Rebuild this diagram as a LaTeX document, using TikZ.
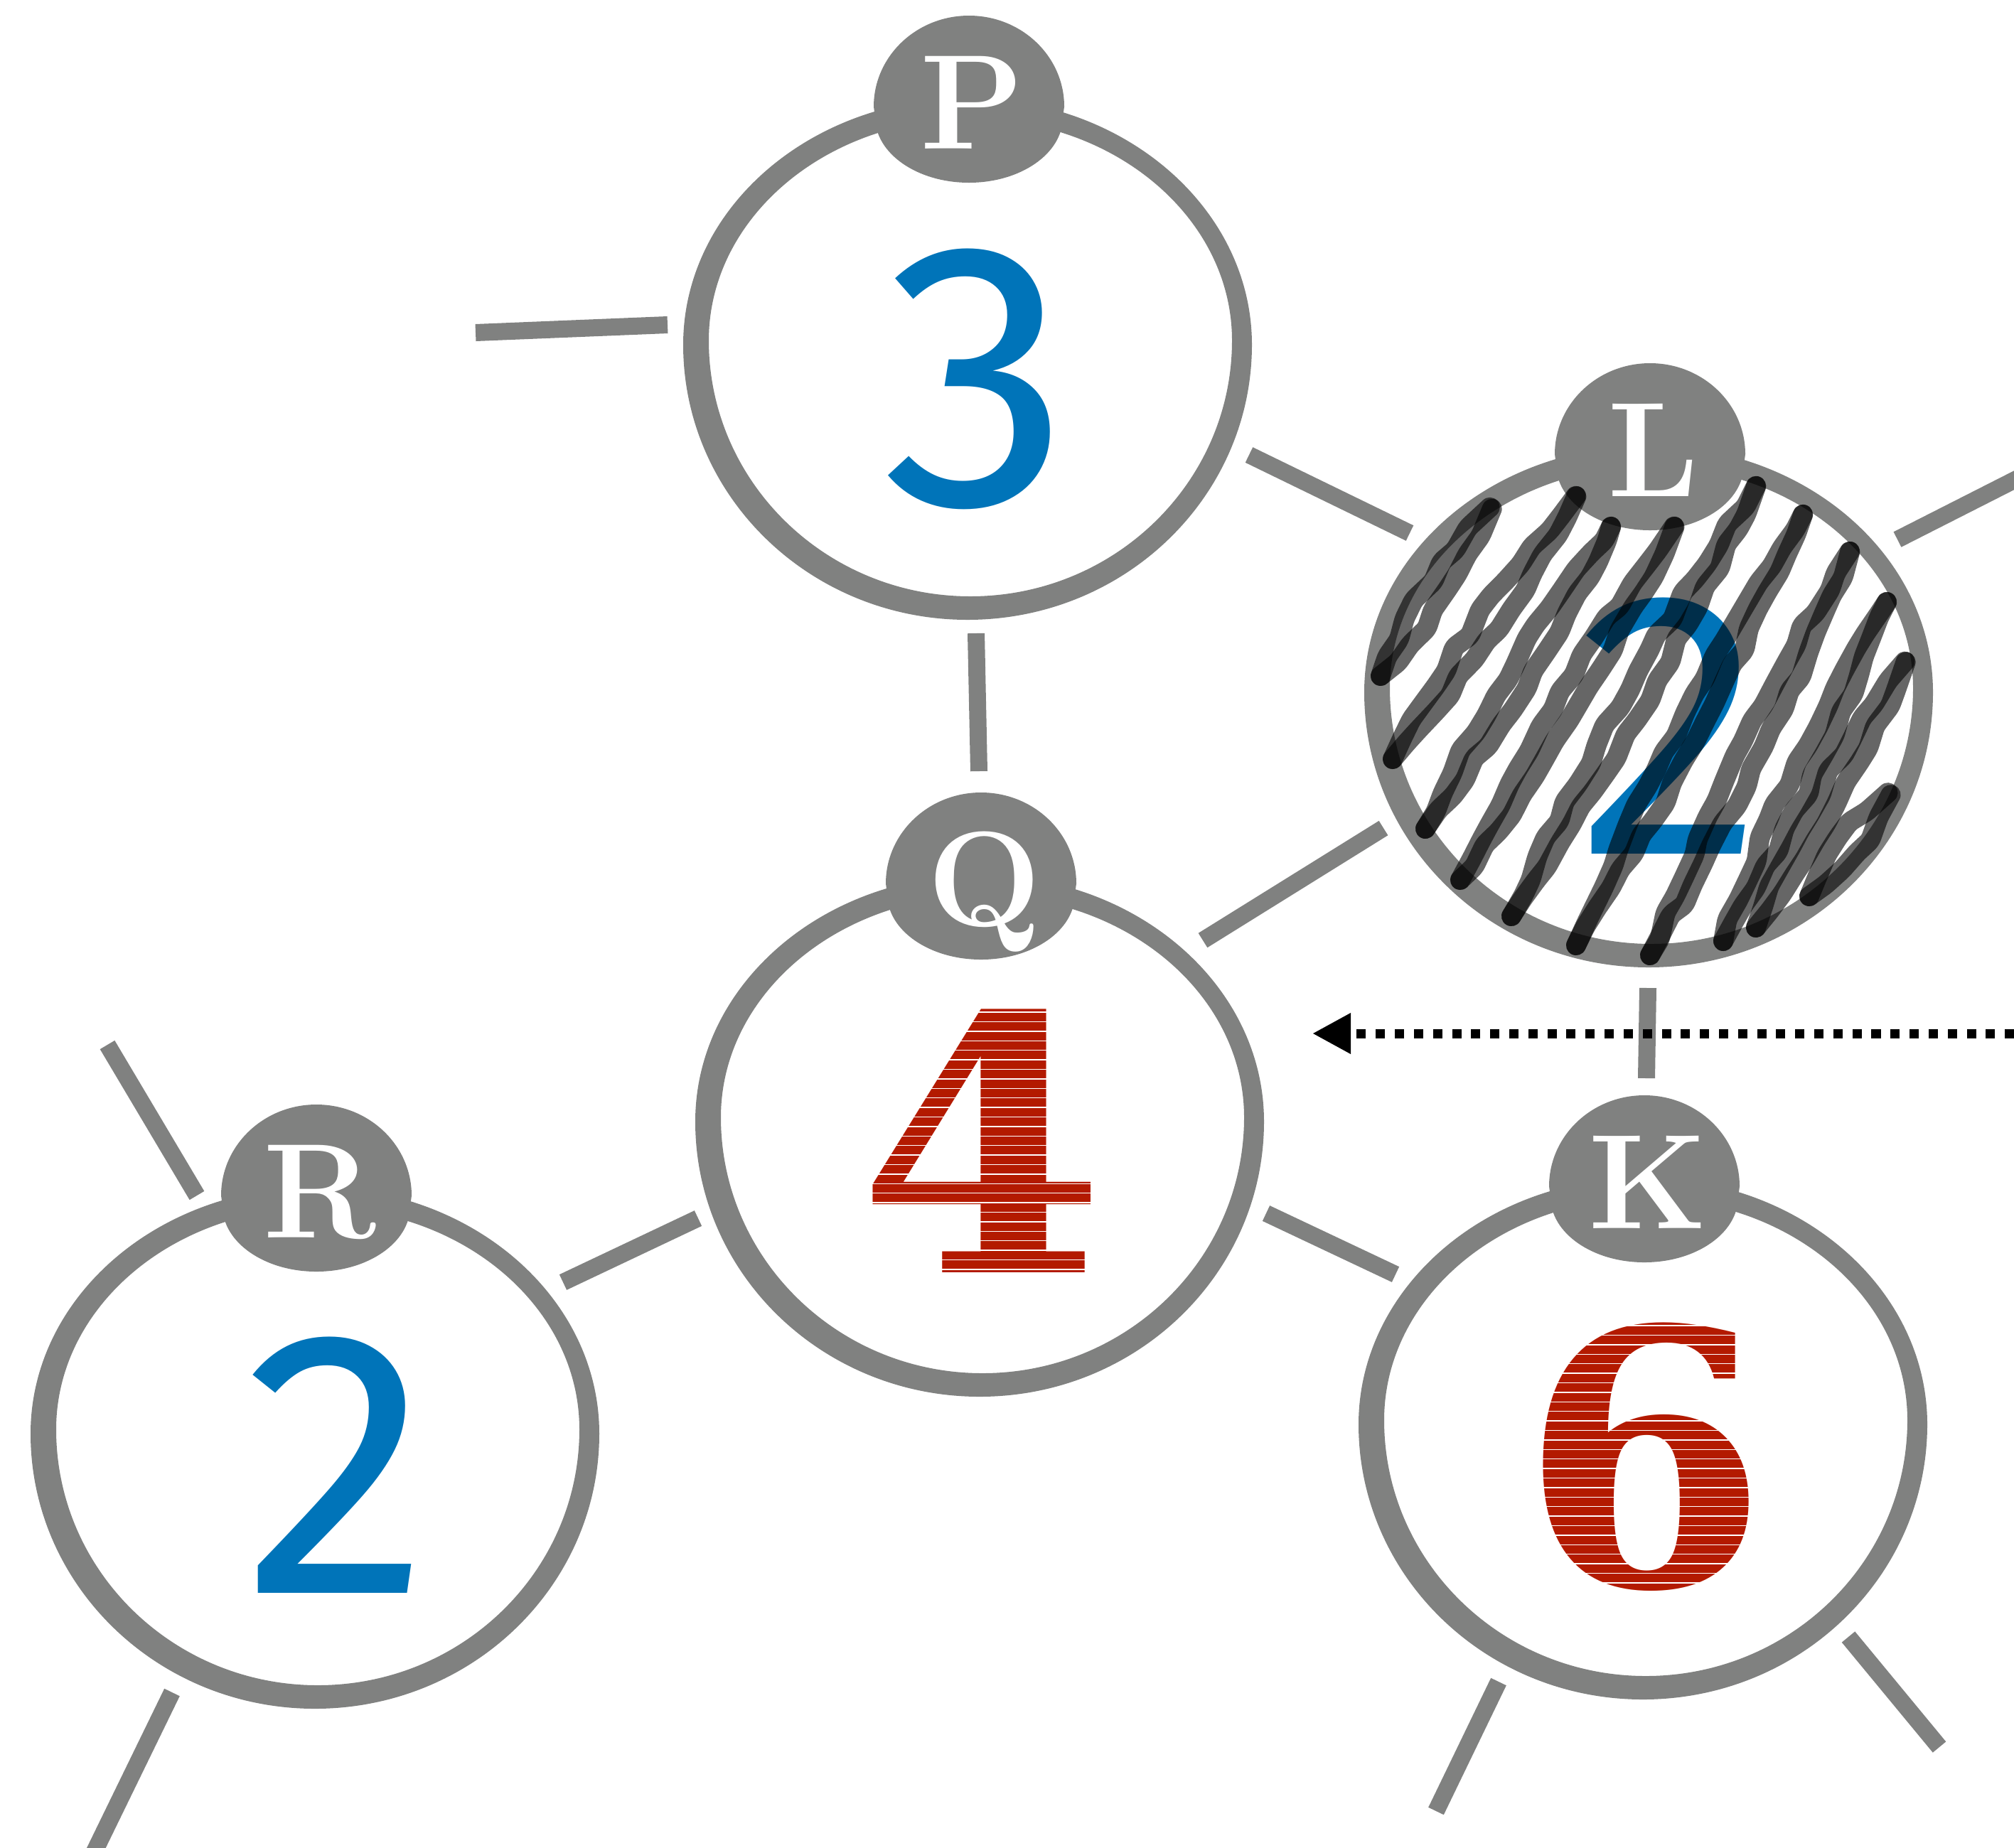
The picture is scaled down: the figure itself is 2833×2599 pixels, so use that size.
\documentclass[tikz,border=0pt]{standalone}
\usepackage{fontspec}
\usetikzlibrary{calc,arrows.meta,decorations.pathmorphing}
\newfontfamily\digitfont{Fira Sans}
\newfontfamily\slabfont{DejaVu Serif}
\definecolor{nodegray}{RGB}{128,129,128}
\definecolor{numblue}{RGB}{0,116,185}
\definecolor{numred}{RGB}{179,26,0}

\tikzset{
  edge/.style={draw=nodegray, line width=0.24cm},
  ring/.style={fill=nodegray, even odd rule},
  tag/.style={fill=nodegray},
  taglabel/.style={text=white, inner sep=0pt, anchor=base, font=\fontsize{54}{54}\selectfont\bfseries},
  bluenum/.style={text=numblue, inner sep=0pt, font=\digitfont\fontsize{151}{151}\selectfont},
  rednum/.style={text=numred, inner sep=0pt, font=\slabfont\fontsize{142}{142}\selectfont\bfseries},
  stripe/.style={draw=white, line width=0.4pt},
  hatchpass/.style={draw=black, draw opacity=0.6, line width=0.28cm, line cap=round,
    line join=round, rounded corners=0.05cm, decorate,
    decoration={random steps, segment length=0.3cm, amplitude=0.05cm}},
  flow/.style={draw=black, line width=0.13cm, dash pattern=on 0.13cm off 0.138cm,
    -{Triangle[length=0.54cm,width=0.54cm]}},
}

% ring, name tag and letter of one vertex: #1 = coordinate name, #2 = letter
\newcommand\vertexbody[2]{%
  \fill[ring]
    ($(#1)+(-402,4)$) arc[start angle=180,end angle=360,x radius=400,y radius=347]
                      arc[start angle=0,end angle=180,x radius=400,y radius=387] -- cycle
    ($(#1)+(-366,-2)$) arc[start angle=180,end angle=360,x radius=368,y radius=312]
                      arc[start angle=0,end angle=180,x radius=368,y radius=360] -- cycle;
  \fill[tag]
    ($(#1)+(-134,-331)$) arc[start angle=180,end angle=360,x radius=134,y radius=128]
    -- ($(#1)+(132,-316)$) arc[start angle=0,end angle=180,x radius=132,y radius=92] -- cycle;
  \node[taglabel] (#1-tag) at ($(#1)+(5,-272)$) {#2};
}

\begin{document}
\begin{tikzpicture}[x=0.01cm,y=-0.01cm]
\pgfmathsetseed{42}
\useasboundingbox (0,0) rectangle (2833,2599);
\begin{scope}
\clip (0,0) rectangle (2833,2599);

% vertex centres
\coordinate (P) at (1363,481);
\coordinate (Q) at (1380,1574);
\coordinate (L) at (2321,970);
\coordinate (R) at (445,2013);
\coordinate (K) at (2313,2000);

% edges between vertices
\draw[edge] ($(P)+(10,410)$)   -- ($(Q)+(-3,-489)$);
\draw[edge] ($(P)+(394,159)$)  -- ($(L)+(-338,-220)$);
\draw[edge] ($(L)+(-375,195)$) -- ($(Q)+(312,-251)$);
\draw[edge] ($(L)+(-3,420)$)   -- ($(K)+(3,-483)$);
\draw[edge] ($(Q)+(-398,140)$) -- ($(R)+(347,-209)$);
\draw[edge] ($(Q)+(401,133)$)  -- ($(K)+(-350,-207)$);

% edges leaving the picture
\draw[edge] ($(P)+(-424,-24)$) -- ($(P)+(-694,-13)$);
\draw[edge] ($(L)+(348,-211)$) -- ($(L)+(539,-308)$);
\draw[edge] ($(R)+(-168,-331)$) -- ($(R)+(-294,-543)$);
\draw[edge] ($(R)+(-203,368)$) -- ($(R)+(-317,602)$);
\draw[edge] ($(K)+(-205,366)$) -- ($(K)+(-293,548)$);
\draw[edge] ($(K)+(287,303)$)  -- ($(K)+(415,458)$);

% vertices
\vertexbody{P}{P}
\vertexbody{Q}{Q}
\vertexbody{L}{L}
\vertexbody{R}{R}
\vertexbody{K}{K}

% values
\node[bluenum] (P-num) at ($(P)+(11,52)$) {3};
\node[bluenum] (R-num) at ($(R)+(29,48)$) {2};
\node[bluenum] (L-num) at ($(L)+(29,51)$) {2};
\node[rednum]  (Q-num) at ($(Q)+(1,31)$)  {4};
\node[rednum]  (K-num) at ($(K)+(0,50)$)  {6};

% white stripes across the red values
\foreach \k in {0,...,27}
  \draw[stripe] ($(Q)+(-175,-150+13.4*\k)$) -- ++(350,0);
\foreach \k in {0,...,27}
  \draw[stripe] ($(K)+(-170,-135+13.4*\k)$) -- ++(340,0);

% hand-drawn hatching over vertex L: each stroke drawn twice, side by side,
% meeting at both ends
\begin{scope}[shift={(L)}]
\foreach \ax/\ay/\bx/\by in {-379/-19/-224/-255, -362/98/-104/-272, -316/196/-55/-229,
    -267/268/34/-229, -195/319/149/-286, -104/360/215/-246, 0/374/281/-194,
    103/354/333/-123, 149/335/359/-39, 224/291/336/147} {
  \draw[hatchpass] (\ax,\ay)
    .. controls ($(\ax,\ay)!0.3!(\bx,\by)+(17,10)$) and ($(\ax,\ay)!0.7!(\bx,\by)+(17,10)$) .. (\bx,\by);
  \draw[hatchpass] (\ax,\ay)
    .. controls ($(\ax,\ay)!0.3!(\bx,\by)+(-17,-10)$) and ($(\ax,\ay)!0.7!(\bx,\by)+(-17,-10)$) .. (\bx,\by);
}
\end{scope}

% dotted arrow coming in from the right
\coordinate (flowsrc) at (2860,1454);
\draw[flow] (flowsrc) -- ($(Q)+(466,-120)$);
\end{scope}
\end{tikzpicture}
\end{document}
